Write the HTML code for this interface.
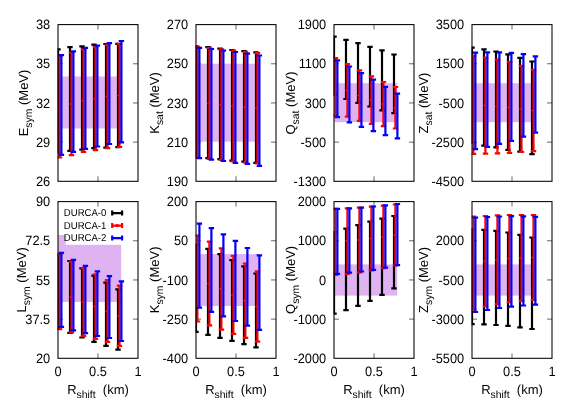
<!DOCTYPE html>
<html><head><meta charset="utf-8"><title>chart</title>
<style>html,body{margin:0;padding:0;background:#fff}svg{display:block;will-change:transform;opacity:0.999}text{font-family:"Liberation Sans",sans-serif;fill:#000;text-rendering:geometricPrecision}</style></head>
<body>
<svg width="581" height="407" viewBox="0 0 581 407">
<rect width="581" height="407" fill="#fff"/>
<clipPath id="c0"><rect x="57.6" y="24.6" width="80.8" height="156.7"/></clipPath>
<g>
<path d="M58 63.78h5M138 63.78h-5M58 102.95h5M138 102.95h-5M58 142.12h5M138 142.12h-5M98 24.6v5M98 181.3v-5" stroke="#000" stroke-width="0.6" fill="none"/>
<g clip-path="url(#c0)">
<rect x="58" y="76.5" width="63.2" height="52.0" fill="#dfb3f2"/>
<path d="M58.0 49.3V152.7M55.3 49.3h5.4M55.3 152.7h5.4" stroke="#000" stroke-width="2.2" fill="none"/>
<path d="M70.0 47.2V150.9M67.3 47.2h5.4M67.3 150.9h5.4" stroke="#000" stroke-width="2.2" fill="none"/>
<path d="M82.0 46.3V149.6M79.3 46.3h5.4M79.3 149.6h5.4" stroke="#000" stroke-width="2.2" fill="none"/>
<path d="M94.0 44.7V148.2M91.3 44.7h5.4M91.3 148.2h5.4" stroke="#000" stroke-width="2.2" fill="none"/>
<path d="M106.0 44.0V147.6M103.3 44.0h5.4M103.3 147.6h5.4" stroke="#000" stroke-width="2.2" fill="none"/>
<path d="M118.0 43.8V147.2M115.3 43.8h5.4M115.3 147.2h5.4" stroke="#000" stroke-width="2.2" fill="none"/>
<path d="M59.5 55.9V157.5M56.8 55.9h5.4M56.8 157.5h5.4" stroke="#ff0000" stroke-width="2.2" fill="none"/>
<circle cx="58.2" cy="106.7" r="1" fill="#ff0000"/>
<path d="M71.5 52.7V155.1M68.8 52.7h5.4M68.8 155.1h5.4" stroke="#ff0000" stroke-width="2.2" fill="none"/>
<circle cx="70.2" cy="103.9" r="1" fill="#ff0000"/>
<path d="M83.5 49.3V152.0M80.8 49.3h5.4M80.8 152.0h5.4" stroke="#ff0000" stroke-width="2.2" fill="none"/>
<circle cx="82.2" cy="100.7" r="1" fill="#ff0000"/>
<path d="M95.5 47.2V150.2M92.8 47.2h5.4M92.8 150.2h5.4" stroke="#ff0000" stroke-width="2.2" fill="none"/>
<circle cx="94.2" cy="98.7" r="1" fill="#ff0000"/>
<path d="M107.5 44.9V148.2M104.8 44.9h5.4M104.8 148.2h5.4" stroke="#ff0000" stroke-width="2.2" fill="none"/>
<circle cx="106.2" cy="96.5" r="1" fill="#ff0000"/>
<path d="M119.5 43.8V147.0M116.8 43.8h5.4M116.8 147.0h5.4" stroke="#ff0000" stroke-width="2.2" fill="none"/>
<circle cx="118.2" cy="95.4" r="1" fill="#ff0000"/>
<path d="M61.4 55.1V154.8M58.7 55.1h5.4M58.7 154.8h5.4" stroke="#0000ff" stroke-width="2.2" fill="none"/>
<path d="M73.4 51.3V151.8M70.7 51.3h5.4M70.7 151.8h5.4" stroke="#0000ff" stroke-width="2.2" fill="none"/>
<path d="M85.4 47.9V148.9M82.7 47.9h5.4M82.7 148.9h5.4" stroke="#0000ff" stroke-width="2.2" fill="none"/>
<path d="M97.4 45.6V146.5M94.7 45.6h5.4M94.7 146.5h5.4" stroke="#0000ff" stroke-width="2.2" fill="none"/>
<path d="M109.4 43.1V144.0M106.7 43.1h5.4M106.7 144.0h5.4" stroke="#0000ff" stroke-width="2.2" fill="none"/>
<path d="M121.4 41.0V142.4M118.7 41.0h5.4M118.7 142.4h5.4" stroke="#0000ff" stroke-width="2.2" fill="none"/>
</g>
<rect x="58" y="24.6" width="80" height="156.7" fill="none" stroke="#000" stroke-width="1.05"/>
<text transform="translate(50.2,29.20) scale(0.985,1.04)" font-size="13" text-anchor="end">38</text>
<text transform="translate(50.2,68.38) scale(0.985,1.04)" font-size="13" text-anchor="end">35</text>
<text transform="translate(50.2,107.55) scale(0.985,1.04)" font-size="13" text-anchor="end">32</text>
<text transform="translate(50.2,146.72) scale(0.985,1.04)" font-size="13" text-anchor="end">29</text>
<text transform="translate(50.2,185.90) scale(0.985,1.04)" font-size="13" text-anchor="end">26</text>
<text transform="translate(28.4,103.0) rotate(-90)" font-size="13" text-anchor="middle">E<tspan font-size="10.4" dy="3.8">sym</tspan><tspan dy="-3.8"> (MeV)</tspan></text>
</g>
<clipPath id="c1"><rect x="195.6" y="24.6" width="80.8" height="156.7"/></clipPath>
<g>
<path d="M196 63.78h5M276 63.78h-5M196 102.95h5M276 102.95h-5M196 142.12h5M276 142.12h-5M236 24.6v5M236 181.3v-5" stroke="#000" stroke-width="0.6" fill="none"/>
<g clip-path="url(#c1)">
<rect x="196" y="63.7" width="63.2" height="78.0" fill="#dfb3f2"/>
<path d="M196.0 46.3V157.3M193.3 46.3h5.4M193.3 157.3h5.4" stroke="#000" stroke-width="2.2" fill="none"/>
<path d="M208.0 47.2V158.2M205.3 47.2h5.4M205.3 158.2h5.4" stroke="#000" stroke-width="2.2" fill="none"/>
<path d="M220.0 48.6V159.2M217.3 48.6h5.4M217.3 159.2h5.4" stroke="#000" stroke-width="2.2" fill="none"/>
<path d="M232.0 50.0V160.6M229.3 50.0h5.4M229.3 160.6h5.4" stroke="#000" stroke-width="2.2" fill="none"/>
<path d="M244.0 51.1V161.7M241.3 51.1h5.4M241.3 161.7h5.4" stroke="#000" stroke-width="2.2" fill="none"/>
<path d="M256.0 52.3V162.8M253.3 52.3h5.4M253.3 162.8h5.4" stroke="#000" stroke-width="2.2" fill="none"/>
<path d="M197.4 46.8V157.5M194.8 46.8h5.4M194.8 157.5h5.4" stroke="#ff0000" stroke-width="2.2" fill="none"/>
<circle cx="196.1" cy="102.2" r="1" fill="#ff0000"/>
<path d="M209.4 47.9V158.9M206.8 47.9h5.4M206.8 158.9h5.4" stroke="#ff0000" stroke-width="2.2" fill="none"/>
<circle cx="208.1" cy="103.4" r="1" fill="#ff0000"/>
<path d="M221.4 49.3V160.0M218.8 49.3h5.4M218.8 160.0h5.4" stroke="#ff0000" stroke-width="2.2" fill="none"/>
<circle cx="220.1" cy="104.7" r="1" fill="#ff0000"/>
<path d="M233.4 50.7V161.4M230.8 50.7h5.4M230.8 161.4h5.4" stroke="#ff0000" stroke-width="2.2" fill="none"/>
<circle cx="232.1" cy="106.1" r="1" fill="#ff0000"/>
<path d="M245.4 51.8V162.5M242.8 51.8h5.4M242.8 162.5h5.4" stroke="#ff0000" stroke-width="2.2" fill="none"/>
<circle cx="244.1" cy="107.2" r="1" fill="#ff0000"/>
<path d="M257.4 53.1V163.5M254.8 53.1h5.4M254.8 163.5h5.4" stroke="#ff0000" stroke-width="2.2" fill="none"/>
<circle cx="256.1" cy="108.3" r="1" fill="#ff0000"/>
<path d="M199.4 47.9V158.2M196.7 47.9h5.4M196.7 158.2h5.4" stroke="#0000ff" stroke-width="2.2" fill="none"/>
<path d="M211.4 49.0V159.6M208.7 49.0h5.4M208.7 159.6h5.4" stroke="#0000ff" stroke-width="2.2" fill="none"/>
<path d="M223.4 50.7V161.0M220.7 50.7h5.4M220.7 161.0h5.4" stroke="#0000ff" stroke-width="2.2" fill="none"/>
<path d="M235.4 52.0V162.8M232.7 52.0h5.4M232.7 162.8h5.4" stroke="#0000ff" stroke-width="2.2" fill="none"/>
<path d="M247.4 53.7V163.9M244.7 53.7h5.4M244.7 163.9h5.4" stroke="#0000ff" stroke-width="2.2" fill="none"/>
<path d="M259.4 55.5V165.8M256.7 55.5h5.4M256.7 165.8h5.4" stroke="#0000ff" stroke-width="2.2" fill="none"/>
</g>
<rect x="196" y="24.6" width="80" height="156.7" fill="none" stroke="#000" stroke-width="1.05"/>
<text transform="translate(188.2,29.20) scale(0.985,1.04)" font-size="13" text-anchor="end">270</text>
<text transform="translate(188.2,68.38) scale(0.985,1.04)" font-size="13" text-anchor="end">250</text>
<text transform="translate(188.2,107.55) scale(0.985,1.04)" font-size="13" text-anchor="end">230</text>
<text transform="translate(188.2,146.72) scale(0.985,1.04)" font-size="13" text-anchor="end">210</text>
<text transform="translate(188.2,185.90) scale(0.985,1.04)" font-size="13" text-anchor="end">190</text>
<text transform="translate(159.1,103.0) rotate(-90)" font-size="13" text-anchor="middle">K<tspan font-size="10.4" dy="3.8">sat</tspan><tspan dy="-3.8"> (MeV)</tspan></text>
</g>
<clipPath id="c2"><rect x="333.6" y="24.6" width="80.8" height="156.7"/></clipPath>
<g>
<path d="M334 63.78h5M414 63.78h-5M334 102.95h5M414 102.95h-5M334 142.12h5M414 142.12h-5M374 24.6v5M374 181.3v-5" stroke="#000" stroke-width="0.6" fill="none"/>
<g clip-path="url(#c2)">
<rect x="334" y="83.2" width="63.2" height="39.0" fill="#dfb3f2"/>
<path d="M334.0 36.6V94.7M331.3 36.6h5.4M331.3 94.7h5.4" stroke="#000" stroke-width="2.2" fill="none"/>
<path d="M346.0 39.9V99.0M343.3 39.9h5.4M343.3 99.0h5.4" stroke="#000" stroke-width="2.2" fill="none"/>
<path d="M358.0 43.1V102.9M355.3 43.1h5.4M355.3 102.9h5.4" stroke="#000" stroke-width="2.2" fill="none"/>
<path d="M370.0 46.9V106.5M367.3 46.9h5.4M367.3 106.5h5.4" stroke="#000" stroke-width="2.2" fill="none"/>
<path d="M382.0 50.3V110.3M379.3 50.3h5.4M379.3 110.3h5.4" stroke="#000" stroke-width="2.2" fill="none"/>
<path d="M394.0 54.5V113.2M391.3 54.5h5.4M391.3 113.2h5.4" stroke="#000" stroke-width="2.2" fill="none"/>
<path d="M335.4 58.0V115.5M332.8 58.0h5.4M332.8 115.5h5.4" stroke="#ff0000" stroke-width="2.2" fill="none"/>
<circle cx="334.1" cy="86.8" r="1" fill="#ff0000"/>
<path d="M347.4 64.2V116.7M344.8 64.2h5.4M344.8 116.7h5.4" stroke="#ff0000" stroke-width="2.2" fill="none"/>
<circle cx="346.1" cy="90.5" r="1" fill="#ff0000"/>
<path d="M359.4 70.4V120.8M356.8 70.4h5.4M356.8 120.8h5.4" stroke="#ff0000" stroke-width="2.2" fill="none"/>
<circle cx="358.1" cy="95.6" r="1" fill="#ff0000"/>
<path d="M371.4 76.4V123.9M368.8 76.4h5.4M368.8 123.9h5.4" stroke="#ff0000" stroke-width="2.2" fill="none"/>
<circle cx="370.1" cy="100.2" r="1" fill="#ff0000"/>
<path d="M383.4 82.0V126.1M380.8 82.0h5.4M380.8 126.1h5.4" stroke="#ff0000" stroke-width="2.2" fill="none"/>
<circle cx="382.1" cy="104.0" r="1" fill="#ff0000"/>
<path d="M395.4 87.0V128.5M392.8 87.0h5.4M392.8 128.5h5.4" stroke="#ff0000" stroke-width="2.2" fill="none"/>
<circle cx="394.1" cy="107.8" r="1" fill="#ff0000"/>
<path d="M337.4 60.3V117.1M334.7 60.3h5.4M334.7 117.1h5.4" stroke="#0000ff" stroke-width="2.2" fill="none"/>
<path d="M349.4 66.5V122.3M346.7 66.5h5.4M346.7 122.3h5.4" stroke="#0000ff" stroke-width="2.2" fill="none"/>
<path d="M361.4 73.1V126.9M358.7 73.1h5.4M358.7 126.9h5.4" stroke="#0000ff" stroke-width="2.2" fill="none"/>
<path d="M373.4 79.7V131.2M370.7 79.7h5.4M370.7 131.2h5.4" stroke="#0000ff" stroke-width="2.2" fill="none"/>
<path d="M385.4 86.8V135.2M382.7 86.8h5.4M382.7 135.2h5.4" stroke="#0000ff" stroke-width="2.2" fill="none"/>
<path d="M397.4 93.7V138.3M394.7 93.7h5.4M394.7 138.3h5.4" stroke="#0000ff" stroke-width="2.2" fill="none"/>
</g>
<rect x="334" y="24.6" width="80" height="156.7" fill="none" stroke="#000" stroke-width="1.05"/>
<text transform="translate(326.2,29.20) scale(0.985,1.04)" font-size="13" text-anchor="end">1900</text>
<text transform="translate(326.2,68.38) scale(0.985,1.04)" font-size="13" text-anchor="end">1100</text>
<text transform="translate(326.2,107.55) scale(0.985,1.04)" font-size="13" text-anchor="end">300</text>
<text transform="translate(326.2,146.72) scale(0.985,1.04)" font-size="13" text-anchor="end">-500</text>
<text transform="translate(326.2,185.90) scale(0.985,1.04)" font-size="13" text-anchor="end">-1300</text>
<text transform="translate(294.7,103.0) rotate(-90)" font-size="13" text-anchor="middle">Q<tspan font-size="10.4" dy="3.8">sat</tspan><tspan dy="-3.8"> (MeV)</tspan></text>
</g>
<clipPath id="c3"><rect x="471.6" y="24.6" width="80.8" height="156.7"/></clipPath>
<g>
<path d="M472 63.78h5M552 63.78h-5M472 102.95h5M552 102.95h-5M472 142.12h5M552 142.12h-5M512 24.6v5M512 181.3v-5" stroke="#000" stroke-width="0.6" fill="none"/>
<g clip-path="url(#c3)">
<rect x="472" y="83.2" width="63.2" height="39.0" fill="#dfb3f2"/>
<path d="M472.0 47.7V143.0M469.3 47.7h5.4M469.3 143.0h5.4" stroke="#000" stroke-width="2.2" fill="none"/>
<path d="M484.0 49.4V145.6M481.3 49.4h5.4M481.3 145.6h5.4" stroke="#000" stroke-width="2.2" fill="none"/>
<path d="M496.0 51.5V147.3M493.3 51.5h5.4M493.3 147.3h5.4" stroke="#000" stroke-width="2.2" fill="none"/>
<path d="M508.0 54.4V149.9M505.3 54.4h5.4M505.3 149.9h5.4" stroke="#000" stroke-width="2.2" fill="none"/>
<path d="M520.0 57.9V151.6M517.3 57.9h5.4M517.3 151.6h5.4" stroke="#000" stroke-width="2.2" fill="none"/>
<path d="M532.0 61.5V154.2M529.3 61.5h5.4M529.3 154.2h5.4" stroke="#000" stroke-width="2.2" fill="none"/>
<path d="M473.4 55.8V153.9M470.8 55.8h5.4M470.8 153.9h5.4" stroke="#ff0000" stroke-width="2.2" fill="none"/>
<circle cx="472.1" cy="104.8" r="1" fill="#ff0000"/>
<path d="M485.4 57.5V153.7M482.8 57.5h5.4M482.8 153.7h5.4" stroke="#ff0000" stroke-width="2.2" fill="none"/>
<circle cx="484.1" cy="105.6" r="1" fill="#ff0000"/>
<path d="M497.4 59.6V153.4M494.8 59.6h5.4M494.8 153.4h5.4" stroke="#ff0000" stroke-width="2.2" fill="none"/>
<circle cx="496.1" cy="106.5" r="1" fill="#ff0000"/>
<path d="M509.4 62.2V152.8M506.8 62.2h5.4M506.8 152.8h5.4" stroke="#ff0000" stroke-width="2.2" fill="none"/>
<circle cx="508.1" cy="107.5" r="1" fill="#ff0000"/>
<path d="M521.5 65.8V152.0M518.8 65.8h5.4M518.8 152.0h5.4" stroke="#ff0000" stroke-width="2.2" fill="none"/>
<circle cx="520.2" cy="108.9" r="1" fill="#ff0000"/>
<path d="M533.5 69.9V151.1M530.8 69.9h5.4M530.8 151.1h5.4" stroke="#ff0000" stroke-width="2.2" fill="none"/>
<circle cx="532.2" cy="110.5" r="1" fill="#ff0000"/>
<path d="M475.4 52.7V149.1M472.7 52.7h5.4M472.7 149.1h5.4" stroke="#0000ff" stroke-width="2.2" fill="none"/>
<path d="M487.4 52.4V146.8M484.7 52.4h5.4M484.7 146.8h5.4" stroke="#0000ff" stroke-width="2.2" fill="none"/>
<path d="M499.4 52.4V143.9M496.7 52.4h5.4M496.7 143.9h5.4" stroke="#0000ff" stroke-width="2.2" fill="none"/>
<path d="M511.4 52.9V140.8M508.7 52.9h5.4M508.7 140.8h5.4" stroke="#0000ff" stroke-width="2.2" fill="none"/>
<path d="M523.4 54.1V136.7M520.7 54.1h5.4M520.7 136.7h5.4" stroke="#0000ff" stroke-width="2.2" fill="none"/>
<path d="M535.4 56.3V132.7M532.7 56.3h5.4M532.7 132.7h5.4" stroke="#0000ff" stroke-width="2.2" fill="none"/>
</g>
<rect x="472" y="24.6" width="80" height="156.7" fill="none" stroke="#000" stroke-width="1.05"/>
<text transform="translate(464.2,29.20) scale(0.985,1.04)" font-size="13" text-anchor="end">3500</text>
<text transform="translate(464.2,68.38) scale(0.985,1.04)" font-size="13" text-anchor="end">1500</text>
<text transform="translate(464.2,107.55) scale(0.985,1.04)" font-size="13" text-anchor="end">-500</text>
<text transform="translate(464.2,146.72) scale(0.985,1.04)" font-size="13" text-anchor="end">-2500</text>
<text transform="translate(464.2,185.90) scale(0.985,1.04)" font-size="13" text-anchor="end">-4500</text>
<text transform="translate(428.2,103.0) rotate(-90)" font-size="13" text-anchor="middle">Z<tspan font-size="10.4" dy="3.8">sat</tspan><tspan dy="-3.8"> (MeV)</tspan></text>
</g>
<clipPath id="c4"><rect x="57.6" y="201.6" width="80.8" height="156.7"/></clipPath>
<g>
<path d="M58 240.78h5M138 240.78h-5M58 279.95h5M138 279.95h-5M58 319.12h5M138 319.12h-5M98 201.6v5M98 358.3v-5" stroke="#000" stroke-width="0.6" fill="none"/>
<g clip-path="url(#c4)">
<rect x="58" y="235.0" width="63.2" height="67.0" fill="#dfb3f2"/>
<rect x="65.6" y="207" width="60" height="37.8" fill="#fff"/>
<path d="M58.0 254.6V328.6M55.3 254.6h5.4M55.3 328.6h5.4" stroke="#000" stroke-width="2.2" fill="none"/>
<path d="M70.0 261.0V332.9M67.3 261.0h5.4M67.3 332.9h5.4" stroke="#000" stroke-width="2.2" fill="none"/>
<path d="M82.0 268.4V337.5M79.3 268.4h5.4M79.3 337.5h5.4" stroke="#000" stroke-width="2.2" fill="none"/>
<path d="M94.0 275.6V341.8M91.3 275.6h5.4M91.3 341.8h5.4" stroke="#000" stroke-width="2.2" fill="none"/>
<path d="M106.0 282.7V345.8M103.3 282.7h5.4M103.3 345.8h5.4" stroke="#000" stroke-width="2.2" fill="none"/>
<path d="M118.0 289.4V349.7M115.3 289.4h5.4M115.3 349.7h5.4" stroke="#000" stroke-width="2.2" fill="none"/>
<path d="M59.5 254.6V329.1M56.8 254.6h5.4M56.8 329.1h5.4" stroke="#ff0000" stroke-width="2.2" fill="none"/>
<circle cx="58.2" cy="291.9" r="1" fill="#ff0000"/>
<path d="M71.5 261.5V332.3M68.8 261.5h5.4M68.8 332.3h5.4" stroke="#ff0000" stroke-width="2.2" fill="none"/>
<circle cx="70.2" cy="296.9" r="1" fill="#ff0000"/>
<path d="M83.5 268.4V335.8M80.8 268.4h5.4M80.8 335.8h5.4" stroke="#ff0000" stroke-width="2.2" fill="none"/>
<circle cx="82.2" cy="302.1" r="1" fill="#ff0000"/>
<path d="M95.5 274.4V338.9M92.8 274.4h5.4M92.8 338.9h5.4" stroke="#ff0000" stroke-width="2.2" fill="none"/>
<circle cx="94.2" cy="306.6" r="1" fill="#ff0000"/>
<path d="M107.5 280.1V341.8M104.8 280.1h5.4M104.8 341.8h5.4" stroke="#ff0000" stroke-width="2.2" fill="none"/>
<circle cx="106.2" cy="311.0" r="1" fill="#ff0000"/>
<path d="M119.5 285.6V345.8M116.8 285.6h5.4M116.8 345.8h5.4" stroke="#ff0000" stroke-width="2.2" fill="none"/>
<circle cx="118.2" cy="315.7" r="1" fill="#ff0000"/>
<path d="M61.4 252.9V326.8M58.7 252.9h5.4M58.7 326.8h5.4" stroke="#0000ff" stroke-width="2.2" fill="none"/>
<path d="M73.4 259.8V330.3M70.7 259.8h5.4M70.7 330.3h5.4" stroke="#0000ff" stroke-width="2.2" fill="none"/>
<path d="M85.4 265.8V333.2M82.7 265.8h5.4M82.7 333.2h5.4" stroke="#0000ff" stroke-width="2.2" fill="none"/>
<path d="M97.4 271.3V336.0M94.7 271.3h5.4M94.7 336.0h5.4" stroke="#0000ff" stroke-width="2.2" fill="none"/>
<path d="M109.4 276.1V338.0M106.7 276.1h5.4M106.7 338.0h5.4" stroke="#0000ff" stroke-width="2.2" fill="none"/>
<path d="M121.4 281.3V341.0M118.7 281.3h5.4M118.7 341.0h5.4" stroke="#0000ff" stroke-width="2.2" fill="none"/>
</g>
<rect x="58" y="201.6" width="80" height="156.7" fill="none" stroke="#000" stroke-width="1.05"/>
<text transform="translate(50.2,206.20) scale(0.985,1.04)" font-size="13" text-anchor="end">90</text>
<text transform="translate(50.2,245.38) scale(0.985,1.04)" font-size="13" text-anchor="end">72.5</text>
<text transform="translate(50.2,284.55) scale(0.985,1.04)" font-size="13" text-anchor="end">55</text>
<text transform="translate(50.2,323.73) scale(0.985,1.04)" font-size="13" text-anchor="end">37.5</text>
<text transform="translate(50.2,362.90) scale(0.985,1.04)" font-size="13" text-anchor="end">20</text>
<text transform="translate(26.1,279.9) rotate(-90)" font-size="13" text-anchor="middle">L<tspan font-size="10.4" dy="3.8">sym</tspan><tspan dy="-3.8"> (MeV)</tspan></text>
<text transform="translate(58.0,375.8) scale(0.985,1.04)" font-size="13" text-anchor="middle">0</text>
<text transform="translate(98.0,375.8) scale(0.985,1.04)" font-size="13" text-anchor="middle">0.5</text>
<text transform="translate(138.0,375.8) scale(0.985,1.04)" font-size="13" text-anchor="middle">1</text>
<text x="98" y="393.8" font-size="13" text-anchor="middle" xml:space="preserve">R<tspan font-size="10.4" dy="3.8">shift</tspan><tspan dy="-3.8">  (km)</tspan></text>
</g>
<clipPath id="c5"><rect x="195.6" y="201.6" width="80.8" height="156.7"/></clipPath>
<g>
<path d="M196 240.78h5M276 240.78h-5M196 279.95h5M276 279.95h-5M196 319.12h5M276 319.12h-5M236 201.6v5M236 358.3v-5" stroke="#000" stroke-width="0.6" fill="none"/>
<g clip-path="url(#c5)">
<rect x="196" y="254.1" width="63.2" height="51.9" fill="#dfb3f2"/>
<path d="M196.0 244.6V331.8M193.3 244.6h5.4M193.3 331.8h5.4" stroke="#000" stroke-width="2.2" fill="none"/>
<path d="M208.0 248.9V334.8M205.3 248.9h5.4M205.3 334.8h5.4" stroke="#000" stroke-width="2.2" fill="none"/>
<path d="M220.0 254.1V337.8M217.3 254.1h5.4M217.3 337.8h5.4" stroke="#000" stroke-width="2.2" fill="none"/>
<path d="M232.0 260.1V340.8M229.3 260.1h5.4M229.3 340.8h5.4" stroke="#000" stroke-width="2.2" fill="none"/>
<path d="M244.0 266.4V344.2M241.3 266.4h5.4M241.3 344.2h5.4" stroke="#000" stroke-width="2.2" fill="none"/>
<path d="M256.0 273.5V347.3M253.3 273.5h5.4M253.3 347.3h5.4" stroke="#000" stroke-width="2.2" fill="none"/>
<path d="M197.4 235.6V321.5M194.8 235.6h5.4M194.8 321.5h5.4" stroke="#ff0000" stroke-width="2.2" fill="none"/>
<circle cx="196.1" cy="278.6" r="1" fill="#ff0000"/>
<path d="M209.4 241.7V325.3M206.8 241.7h5.4M206.8 325.3h5.4" stroke="#ff0000" stroke-width="2.2" fill="none"/>
<circle cx="208.1" cy="283.5" r="1" fill="#ff0000"/>
<path d="M221.4 248.4V329.6M218.8 248.4h5.4M218.8 329.6h5.4" stroke="#ff0000" stroke-width="2.2" fill="none"/>
<circle cx="220.1" cy="289.0" r="1" fill="#ff0000"/>
<path d="M233.4 255.8V333.9M230.8 255.8h5.4M230.8 333.9h5.4" stroke="#ff0000" stroke-width="2.2" fill="none"/>
<circle cx="232.1" cy="294.9" r="1" fill="#ff0000"/>
<path d="M245.4 263.5V337.8M242.8 263.5h5.4M242.8 337.8h5.4" stroke="#ff0000" stroke-width="2.2" fill="none"/>
<circle cx="244.1" cy="300.6" r="1" fill="#ff0000"/>
<path d="M257.4 271.3V341.6M254.8 271.3h5.4M254.8 341.6h5.4" stroke="#ff0000" stroke-width="2.2" fill="none"/>
<circle cx="256.1" cy="306.5" r="1" fill="#ff0000"/>
<path d="M199.4 223.6V307.7M196.7 223.6h5.4M196.7 307.7h5.4" stroke="#0000ff" stroke-width="2.2" fill="none"/>
<path d="M211.4 228.2V311.9M208.7 228.2h5.4M208.7 311.9h5.4" stroke="#0000ff" stroke-width="2.2" fill="none"/>
<path d="M223.4 234.3V316.3M220.7 234.3h5.4M220.7 316.3h5.4" stroke="#0000ff" stroke-width="2.2" fill="none"/>
<path d="M235.4 240.8V321.0M232.7 240.8h5.4M232.7 321.0h5.4" stroke="#0000ff" stroke-width="2.2" fill="none"/>
<path d="M247.4 248.0V325.6M244.7 248.0h5.4M244.7 325.6h5.4" stroke="#0000ff" stroke-width="2.2" fill="none"/>
<path d="M259.4 255.4V329.9M256.7 255.4h5.4M256.7 329.9h5.4" stroke="#0000ff" stroke-width="2.2" fill="none"/>
</g>
<rect x="196" y="201.6" width="80" height="156.7" fill="none" stroke="#000" stroke-width="1.05"/>
<text transform="translate(188.2,206.20) scale(0.985,1.04)" font-size="13" text-anchor="end">200</text>
<text transform="translate(188.2,245.38) scale(0.985,1.04)" font-size="13" text-anchor="end">50</text>
<text transform="translate(188.2,284.55) scale(0.985,1.04)" font-size="13" text-anchor="end">-100</text>
<text transform="translate(188.2,323.73) scale(0.985,1.04)" font-size="13" text-anchor="end">-250</text>
<text transform="translate(188.2,362.90) scale(0.985,1.04)" font-size="13" text-anchor="end">-400</text>
<text transform="translate(159.1,279.9) rotate(-90)" font-size="13" text-anchor="middle">K<tspan font-size="10.4" dy="3.8">sym</tspan><tspan dy="-3.8"> (MeV)</tspan></text>
<text transform="translate(196.0,375.8) scale(0.985,1.04)" font-size="13" text-anchor="middle">0</text>
<text transform="translate(236.0,375.8) scale(0.985,1.04)" font-size="13" text-anchor="middle">0.5</text>
<text transform="translate(276.0,375.8) scale(0.985,1.04)" font-size="13" text-anchor="middle">1</text>
<text x="236" y="393.8" font-size="13" text-anchor="middle" xml:space="preserve">R<tspan font-size="10.4" dy="3.8">shift</tspan><tspan dy="-3.8">  (km)</tspan></text>
</g>
<clipPath id="c6"><rect x="333.6" y="201.6" width="80.8" height="156.7"/></clipPath>
<g>
<path d="M334 240.78h5M414 240.78h-5M334 279.95h5M414 279.95h-5M334 319.12h5M414 319.12h-5M374 201.6v5M374 358.3v-5" stroke="#000" stroke-width="0.6" fill="none"/>
<g clip-path="url(#c6)">
<rect x="334" y="264.4" width="63.2" height="31.2" fill="#dfb3f2"/>
<path d="M334.0 232.0V313.7M331.3 232.0h5.4M331.3 313.7h5.4" stroke="#000" stroke-width="2.2" fill="none"/>
<path d="M346.0 228.6V310.2M343.3 228.6h5.4M343.3 310.2h5.4" stroke="#000" stroke-width="2.2" fill="none"/>
<path d="M358.0 225.1V305.9M355.3 225.1h5.4M355.3 305.9h5.4" stroke="#000" stroke-width="2.2" fill="none"/>
<path d="M370.0 221.7V300.8M367.3 221.7h5.4M367.3 300.8h5.4" stroke="#000" stroke-width="2.2" fill="none"/>
<path d="M382.0 218.6V294.8M379.3 218.6h5.4M379.3 294.8h5.4" stroke="#000" stroke-width="2.2" fill="none"/>
<path d="M394.0 216.0V288.4M391.3 216.0h5.4M391.3 288.4h5.4" stroke="#000" stroke-width="2.2" fill="none"/>
<path d="M335.4 208.8V275.0M332.8 208.8h5.4M332.8 275.0h5.4" stroke="#ff0000" stroke-width="2.2" fill="none"/>
<circle cx="334.1" cy="241.9" r="1" fill="#ff0000"/>
<path d="M347.4 208.4V273.8M344.8 208.4h5.4M344.8 273.8h5.4" stroke="#ff0000" stroke-width="2.2" fill="none"/>
<circle cx="346.1" cy="241.1" r="1" fill="#ff0000"/>
<path d="M359.4 207.6V272.4M356.8 207.6h5.4M356.8 272.4h5.4" stroke="#ff0000" stroke-width="2.2" fill="none"/>
<circle cx="358.1" cy="240.0" r="1" fill="#ff0000"/>
<path d="M371.4 206.7V270.3M368.8 206.7h5.4M368.8 270.3h5.4" stroke="#ff0000" stroke-width="2.2" fill="none"/>
<circle cx="370.1" cy="238.5" r="1" fill="#ff0000"/>
<path d="M383.4 205.7V268.1M380.8 205.7h5.4M380.8 268.1h5.4" stroke="#ff0000" stroke-width="2.2" fill="none"/>
<circle cx="382.1" cy="236.9" r="1" fill="#ff0000"/>
<path d="M395.4 204.5V265.5M392.8 204.5h5.4M392.8 265.5h5.4" stroke="#ff0000" stroke-width="2.2" fill="none"/>
<circle cx="394.1" cy="235.0" r="1" fill="#ff0000"/>
<path d="M337.4 208.8V273.8M334.7 208.8h5.4M334.7 273.8h5.4" stroke="#0000ff" stroke-width="2.2" fill="none"/>
<path d="M349.4 208.3V272.7M346.7 208.3h5.4M346.7 272.7h5.4" stroke="#0000ff" stroke-width="2.2" fill="none"/>
<path d="M361.4 207.6V271.5M358.7 207.6h5.4M358.7 271.5h5.4" stroke="#0000ff" stroke-width="2.2" fill="none"/>
<path d="M373.4 206.5V269.8M370.7 206.5h5.4M370.7 269.8h5.4" stroke="#0000ff" stroke-width="2.2" fill="none"/>
<path d="M385.4 205.3V267.7M382.7 205.3h5.4M382.7 267.7h5.4" stroke="#0000ff" stroke-width="2.2" fill="none"/>
<path d="M397.4 204.0V265.1M394.7 204.0h5.4M394.7 265.1h5.4" stroke="#0000ff" stroke-width="2.2" fill="none"/>
</g>
<rect x="334" y="201.6" width="80" height="156.7" fill="none" stroke="#000" stroke-width="1.05"/>
<text transform="translate(326.2,206.20) scale(0.985,1.04)" font-size="13" text-anchor="end">2000</text>
<text transform="translate(326.2,245.38) scale(0.985,1.04)" font-size="13" text-anchor="end">1000</text>
<text transform="translate(326.2,284.55) scale(0.985,1.04)" font-size="13" text-anchor="end">0</text>
<text transform="translate(326.2,323.73) scale(0.985,1.04)" font-size="13" text-anchor="end">-1000</text>
<text transform="translate(326.2,362.90) scale(0.985,1.04)" font-size="13" text-anchor="end">-2000</text>
<text transform="translate(294.7,279.9) rotate(-90)" font-size="13" text-anchor="middle">Q<tspan font-size="10.4" dy="3.8">sym</tspan><tspan dy="-3.8"> (MeV)</tspan></text>
<text transform="translate(334.0,375.8) scale(0.985,1.04)" font-size="13" text-anchor="middle">0</text>
<text transform="translate(374.0,375.8) scale(0.985,1.04)" font-size="13" text-anchor="middle">0.5</text>
<text transform="translate(414.0,375.8) scale(0.985,1.04)" font-size="13" text-anchor="middle">1</text>
<text x="374" y="393.8" font-size="13" text-anchor="middle" xml:space="preserve">R<tspan font-size="10.4" dy="3.8">shift</tspan><tspan dy="-3.8">  (km)</tspan></text>
</g>
<clipPath id="c7"><rect x="471.6" y="201.6" width="80.8" height="156.7"/></clipPath>
<g>
<path d="M472 240.78h5M552 240.78h-5M472 279.95h5M552 279.95h-5M472 319.12h5M552 319.12h-5M512 201.6v5M512 358.3v-5" stroke="#000" stroke-width="0.6" fill="none"/>
<g clip-path="url(#c7)">
<rect x="472" y="264.4" width="63.2" height="31.2" fill="#dfb3f2"/>
<path d="M472.0 229.4V324.1M469.3 229.4h5.4M469.3 324.1h5.4" stroke="#000" stroke-width="2.2" fill="none"/>
<path d="M484.0 229.9V324.4M481.3 229.9h5.4M481.3 324.4h5.4" stroke="#000" stroke-width="2.2" fill="none"/>
<path d="M496.0 230.8V325.0M493.3 230.8h5.4M493.3 325.0h5.4" stroke="#000" stroke-width="2.2" fill="none"/>
<path d="M508.0 232.5V325.9M505.3 232.5h5.4M505.3 325.9h5.4" stroke="#000" stroke-width="2.2" fill="none"/>
<path d="M520.0 234.9V327.3M517.3 234.9h5.4M517.3 327.3h5.4" stroke="#000" stroke-width="2.2" fill="none"/>
<path d="M532.0 237.5V329.0M529.3 237.5h5.4M529.3 329.0h5.4" stroke="#000" stroke-width="2.2" fill="none"/>
<path d="M473.4 216.5V309.7M470.8 216.5h5.4M470.8 309.7h5.4" stroke="#ff0000" stroke-width="2.2" fill="none"/>
<circle cx="472.1" cy="263.1" r="1" fill="#ff0000"/>
<path d="M485.4 216.0V306.4M482.8 216.0h5.4M482.8 306.4h5.4" stroke="#ff0000" stroke-width="2.2" fill="none"/>
<circle cx="484.1" cy="261.2" r="1" fill="#ff0000"/>
<path d="M497.4 215.3V304.1M494.8 215.3h5.4M494.8 304.1h5.4" stroke="#ff0000" stroke-width="2.2" fill="none"/>
<circle cx="496.1" cy="259.7" r="1" fill="#ff0000"/>
<path d="M509.4 215.0V302.2M506.8 215.0h5.4M506.8 302.2h5.4" stroke="#ff0000" stroke-width="2.2" fill="none"/>
<circle cx="508.1" cy="258.6" r="1" fill="#ff0000"/>
<path d="M521.5 215.0V300.8M518.8 215.0h5.4M518.8 300.8h5.4" stroke="#ff0000" stroke-width="2.2" fill="none"/>
<circle cx="520.2" cy="257.9" r="1" fill="#ff0000"/>
<path d="M533.5 215.1V299.8M530.8 215.1h5.4M530.8 299.8h5.4" stroke="#ff0000" stroke-width="2.2" fill="none"/>
<circle cx="532.2" cy="257.4" r="1" fill="#ff0000"/>
<path d="M475.4 217.7V312.0M472.7 217.7h5.4M472.7 312.0h5.4" stroke="#0000ff" stroke-width="2.2" fill="none"/>
<path d="M487.4 217.0V310.0M484.7 217.0h5.4M484.7 310.0h5.4" stroke="#0000ff" stroke-width="2.2" fill="none"/>
<path d="M499.4 216.5V308.0M496.7 216.5h5.4M496.7 308.0h5.4" stroke="#0000ff" stroke-width="2.2" fill="none"/>
<path d="M511.4 216.2V306.7M508.7 216.2h5.4M508.7 306.7h5.4" stroke="#0000ff" stroke-width="2.2" fill="none"/>
<path d="M523.4 216.3V305.5M520.7 216.3h5.4M520.7 305.5h5.4" stroke="#0000ff" stroke-width="2.2" fill="none"/>
<path d="M535.4 216.9V304.7M532.7 216.9h5.4M532.7 304.7h5.4" stroke="#0000ff" stroke-width="2.2" fill="none"/>
</g>
<rect x="472" y="201.6" width="80" height="156.7" fill="none" stroke="#000" stroke-width="1.05"/>
<text transform="translate(464.2,245.38) scale(0.985,1.04)" font-size="13" text-anchor="end">2000</text>
<text transform="translate(464.2,284.55) scale(0.985,1.04)" font-size="13" text-anchor="end">-500</text>
<text transform="translate(464.2,323.73) scale(0.985,1.04)" font-size="13" text-anchor="end">-3000</text>
<text transform="translate(464.2,362.90) scale(0.985,1.04)" font-size="13" text-anchor="end">-5500</text>
<text transform="translate(428.2,279.9) rotate(-90)" font-size="13" text-anchor="middle">Z<tspan font-size="10.4" dy="3.8">sym</tspan><tspan dy="-3.8"> (MeV)</tspan></text>
<text transform="translate(472.0,375.8) scale(0.985,1.04)" font-size="13" text-anchor="middle">0</text>
<text transform="translate(512.0,375.8) scale(0.985,1.04)" font-size="13" text-anchor="middle">0.5</text>
<text transform="translate(552.0,375.8) scale(0.985,1.04)" font-size="13" text-anchor="middle">1</text>
<text x="512" y="393.8" font-size="13" text-anchor="middle" xml:space="preserve">R<tspan font-size="10.4" dy="3.8">shift</tspan><tspan dy="-3.8">  (km)</tspan></text>
</g>
<text x="106.4" y="216.3" font-size="10" text-anchor="end" textLength="42.6" lengthAdjust="spacingAndGlyphs">DURCA-0</text>
<path d="M112.2 213.1H122.1M112.2 210.6v5M122.1 210.6v5" stroke="#000" stroke-width="2.2" fill="none"/>
<text x="106.4" y="228.8" font-size="10" text-anchor="end" textLength="42.6" lengthAdjust="spacingAndGlyphs">DURCA-1</text>
<path d="M112.2 225.6H122.1M112.2 223.1v5M122.1 223.1v5" stroke="#ff0000" stroke-width="2.2" fill="none"/>
<circle cx="117.2" cy="225.6" r="1.7" fill="#ff0000"/>
<text x="106.4" y="241.3" font-size="10" text-anchor="end" textLength="42.6" lengthAdjust="spacingAndGlyphs">DURCA-2</text>
<path d="M112.2 238.1H122.1M112.2 235.6v5M122.1 235.6v5" stroke="#0000ff" stroke-width="2.2" fill="none"/>
</svg>
</body></html>
